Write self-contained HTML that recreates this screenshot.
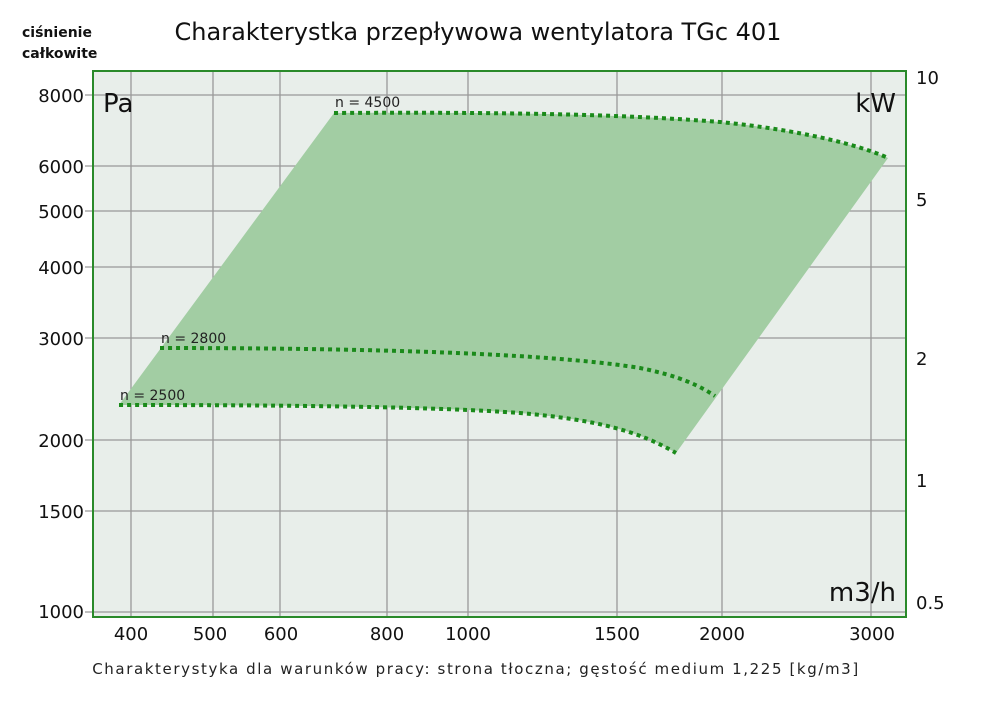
<!DOCTYPE html>
<html><head><meta charset="utf-8"><style>
body{margin:0;background:#fff;}
svg{display:block;font-family:"DejaVu Sans","Liberation Sans",sans-serif;}
</style></head><body>
<svg width="1000" height="706" viewBox="0 0 1000 706" xmlns="http://www.w3.org/2000/svg">
<text x="22" y="37" font-size="14" font-weight="bold" fill="#111">ciśnienie</text>
<text x="22" y="58" font-size="14" font-weight="bold" fill="#111">całkowite</text>
<text x="478" y="40" font-size="24" text-anchor="middle" fill="#111">Charakterystka przepływowa wentylatora TGc 401</text>
<rect x="93" y="71" width="813" height="546" fill="#e8eeea"/>
<g stroke="#999" stroke-width="1.3">
<line x1="131" y1="71" x2="131" y2="617"/><line x1="213" y1="71" x2="213" y2="617"/>
<line x1="280" y1="71" x2="280" y2="617"/><line x1="387" y1="71" x2="387" y2="617"/>
<line x1="468" y1="71" x2="468" y2="617"/><line x1="617" y1="71" x2="617" y2="617"/>
<line x1="722" y1="71" x2="722" y2="617"/><line x1="871" y1="71" x2="871" y2="617"/>
<line x1="85" y1="95" x2="906" y2="95"/><line x1="85" y1="166" x2="906" y2="166"/>
<line x1="85" y1="211" x2="906" y2="211"/><line x1="85" y1="267" x2="906" y2="267"/>
<line x1="85" y1="338" x2="906" y2="338"/><line x1="85" y1="440" x2="906" y2="440"/>
<line x1="85" y1="511" x2="906" y2="511"/><line x1="85" y1="612" x2="906" y2="612"/>
</g>
<path d="M334,113 C500,112 620,114 720,122 C800,130 860,145 888,158 L676,453 C640,432 600,420 520,413 C440,407 300,405 119,405 Z" fill="#a2cda3"/>
<g fill="none" stroke="#1a8a1a" stroke-width="4" stroke-dasharray="4 4">
<path d="M334,113 C500,112 620,114 720,122 C800,130 860,145 888,158"/>
<path d="M160,348 C400,348 560,355 640,368 C680,376 700,386 715,396"/>
<path d="M119,405 C300,405 440,407 520,413 C600,420 640,432 676,453"/>
</g>
<rect x="93" y="71" width="813" height="546" fill="none" stroke="#2a8a2a" stroke-width="2"/>
<g font-size="14" fill="#222">
<text x="335" y="107">n = 4500</text><text x="161" y="343">n = 2800</text><text x="120" y="400">n = 2500</text>
</g>
<text x="103" y="112" font-size="26" fill="#111">Pa</text>
<text x="896" y="112" font-size="26" fill="#111" text-anchor="end">kW</text>
<text x="896" y="601" font-size="26" fill="#111" text-anchor="end">m3/h</text>
<g font-size="18" fill="#111" text-anchor="end">
<text x="84" y="102">8000</text><text x="84" y="173">6000</text><text x="84" y="218">5000</text>
<text x="84" y="274">4000</text><text x="84" y="345">3000</text><text x="84" y="447">2000</text>
<text x="84" y="518">1500</text><text x="84" y="618">1000</text>
</g>
<g font-size="18" fill="#111">
<text x="916" y="84">10</text><text x="916" y="206">5</text><text x="916" y="365">2</text>
<text x="916" y="487">1</text><text x="916" y="609">0.5</text>
</g>
<g font-size="18" fill="#111" text-anchor="middle">
<text x="131" y="640">400</text><text x="210" y="640">500</text><text x="281" y="640">600</text>
<text x="387" y="640">800</text><text x="468" y="640">1000</text><text x="617" y="640">1500</text>
<text x="722" y="640">2000</text><text x="872" y="640">3000</text>
</g>
<text x="476" y="674" font-size="15" fill="#222" text-anchor="middle" letter-spacing="1.6">Charakterystyka dla warunków pracy: strona tłoczna; gęstość medium 1,225 [kg/m3]</text>
</svg>
</body></html>
